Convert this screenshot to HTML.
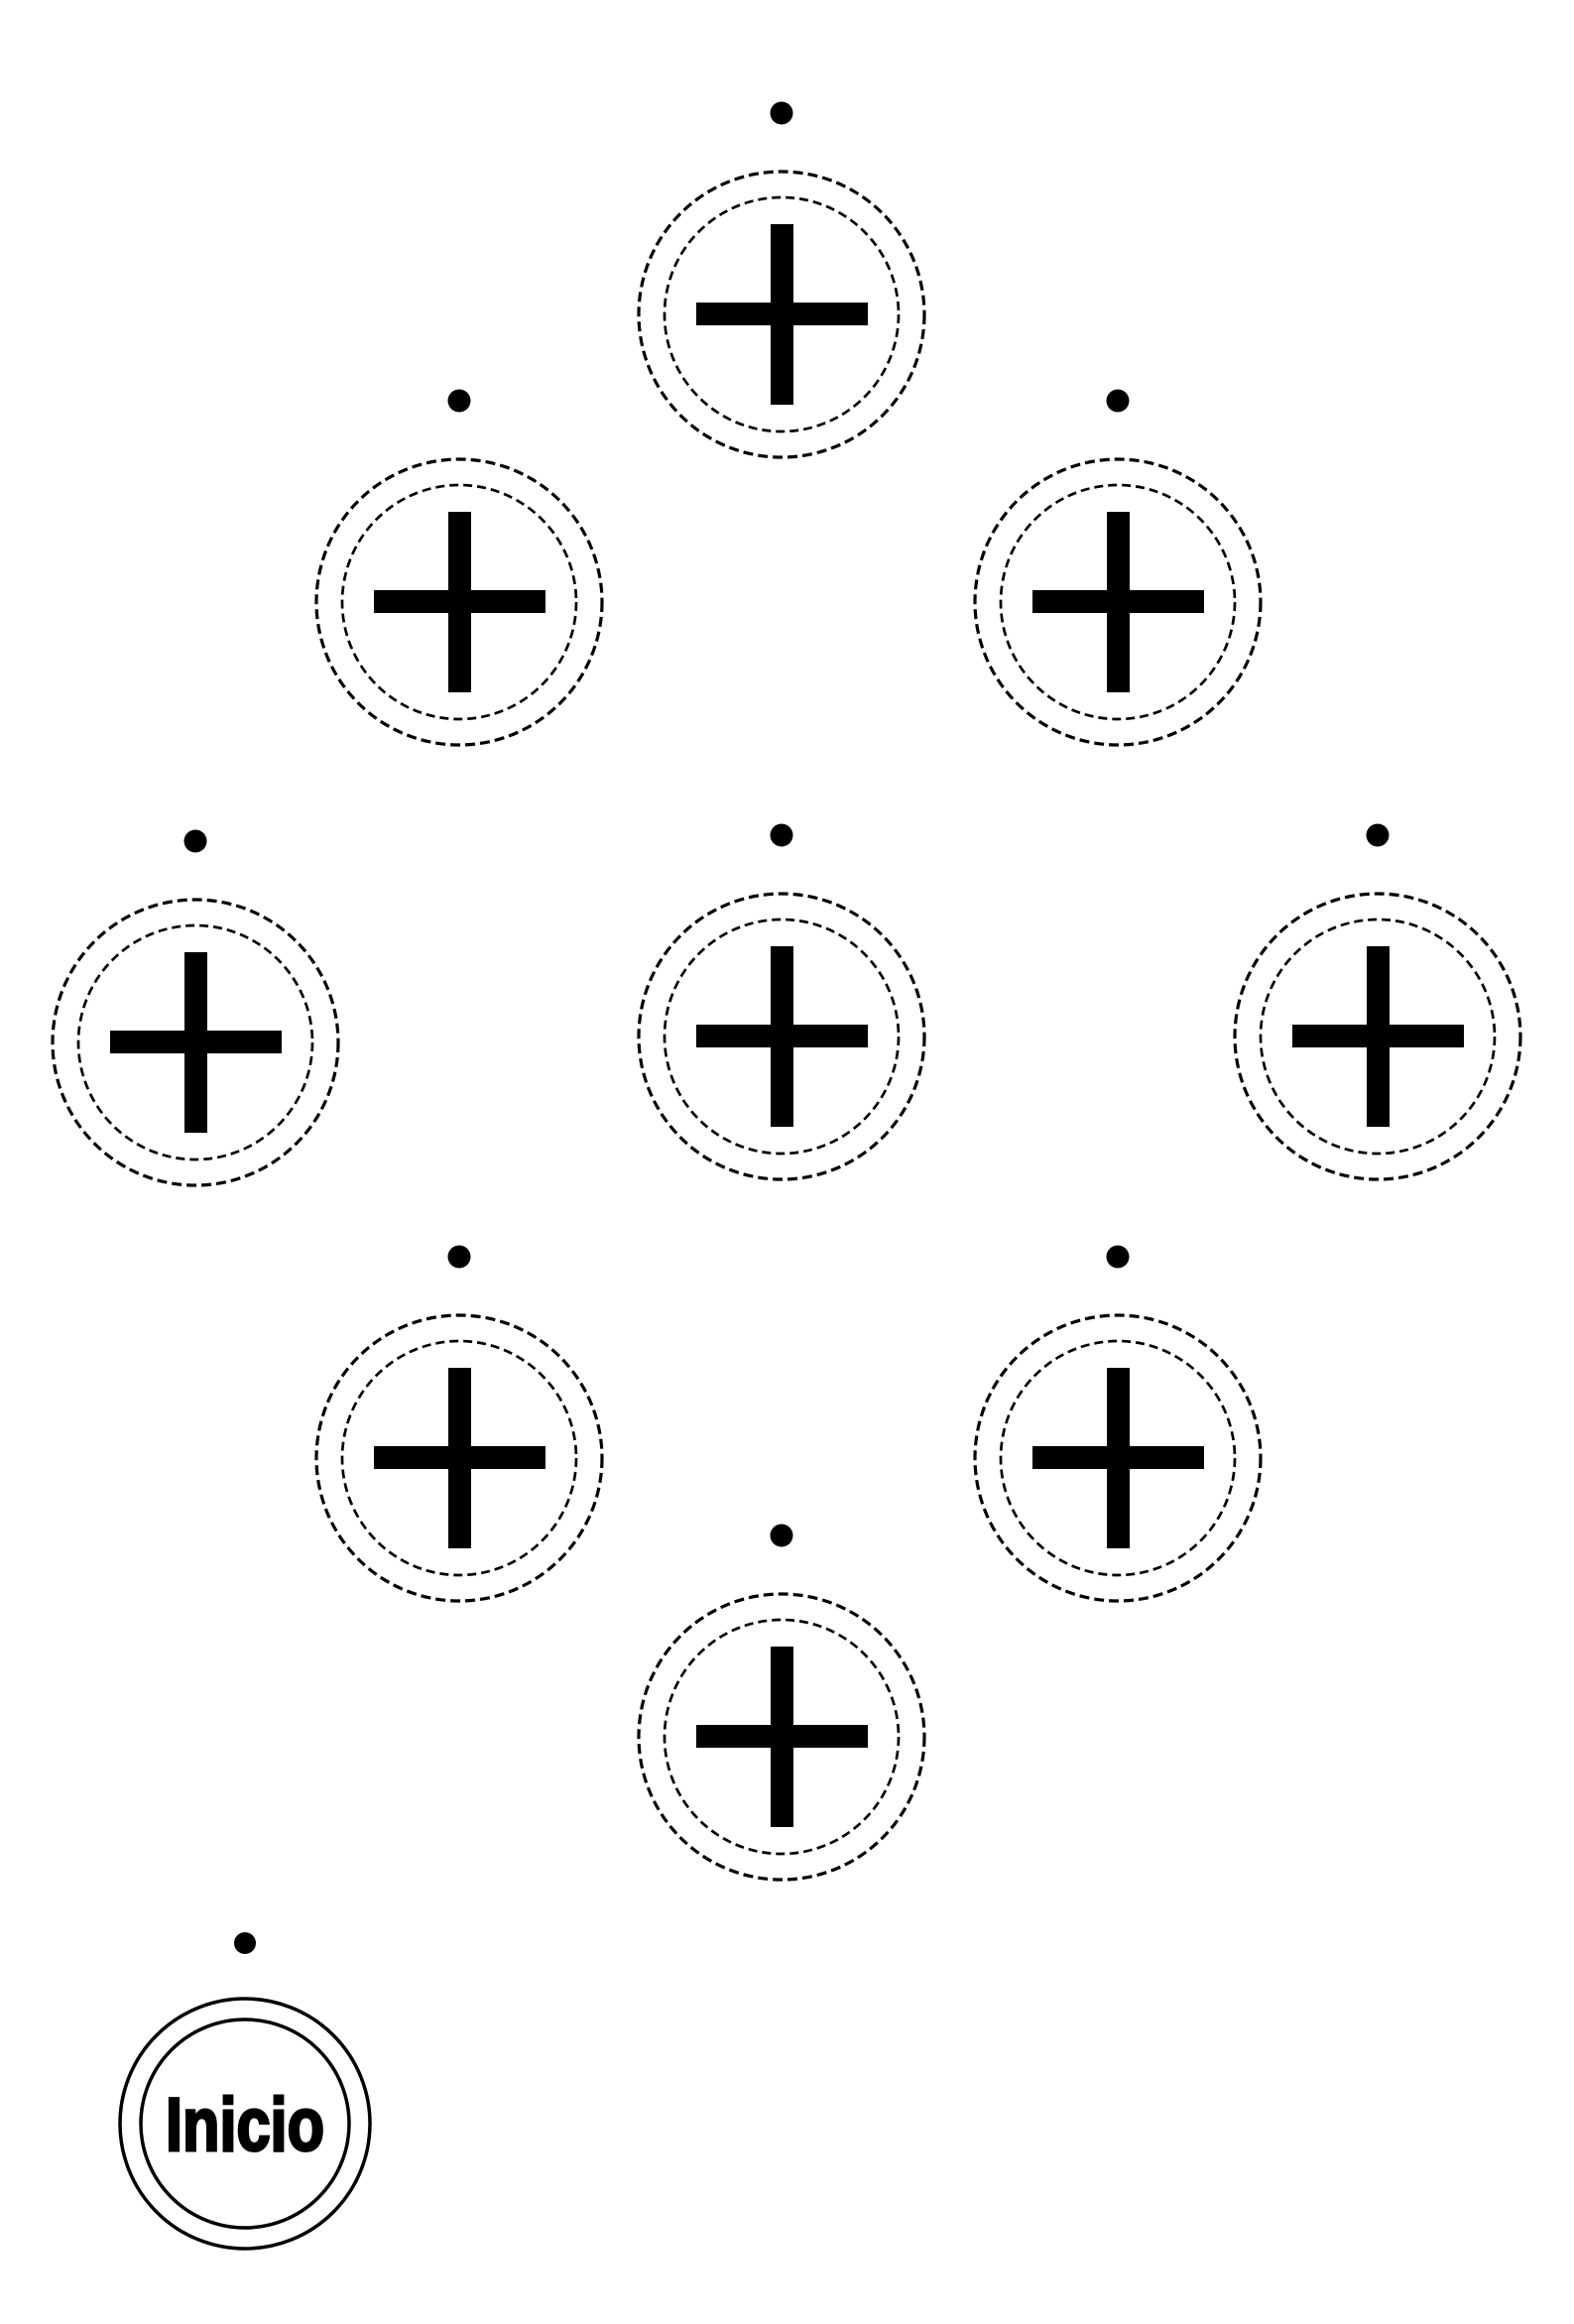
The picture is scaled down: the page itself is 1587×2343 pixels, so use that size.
<!DOCTYPE html>
<html><head><meta charset="utf-8"><style>
html,body{margin:0;padding:0;background:#fff;}
svg{display:block;}
</style></head><body>
<svg id="board" width="1587" height="2343" viewBox="0 0 1587 2343" xmlns="http://www.w3.org/2000/svg">
<rect width="1587" height="2343" fill="#fff"/>
<g>
  <circle cx="247" cy="1959" r="11" fill="#000"/>
  <circle cx="247" cy="2141" r="126" fill="none" stroke="#000" stroke-width="3.5"/>
  <circle cx="247" cy="2141" r="105" fill="none" stroke="#000" stroke-width="3.5"/>
  <text x="247" y="2168" text-anchor="middle" font-family="'Liberation Sans Narrow','Liberation Sans',sans-serif" font-weight="bold" font-size="76" stroke="#000" stroke-width="3" stroke-linejoin="miter" textLength="160" lengthAdjust="spacingAndGlyphs">Inicio</text>
</g>
<g id="nodes"></g>
</svg>
<script>
const nodeX = [788, 463, 1127, 197, 788, 1389, 463, 1127, 788];
const nodeY = [317, 607, 607, 1051, 1045, 1045, 1470, 1470, 1751];
const g = document.getElementById('nodes');
const NS = 'http://www.w3.org/2000/svg';
function mk(tag, attrs){const e=document.createElementNS(NS,tag);for(const k in attrs)e.setAttribute(k,attrs[k]);return e;}
for (let i = 0; i < nodeX.length; i++) {
  const cx = nodeX[i], cy = nodeY[i];
  const grp = mk('g', {});
  
  
  const dot = mk('circle', {cx: cx, cy: cy - 203, r: 11.5, fill: '#000'});
  
  
  const outer = mk('circle', {cx: cx, cy: cy, r: 144, fill: 'none', stroke: '#000', 'stroke-width': 3.2, 'stroke-dasharray': '10 5'});
  
  
  const inner = mk('circle', {cx: cx, cy: cy, r: 118, fill: 'none', stroke: '#000', 'stroke-width': 2.7, 'stroke-dasharray': '9 5'});
  
  
  const h = mk('rect', {x: cx - 86, y: cy - 12, width: 173, height: 23, fill: '#000'});
  
  
  const v = mk('rect', {x: cx - 11, y: cy - 91, width: 23, height: 182, fill: '#000'});
  
  
  grp.append(dot, outer, inner, h, v);
  g.appendChild(grp);
}
</script>
</body></html>
